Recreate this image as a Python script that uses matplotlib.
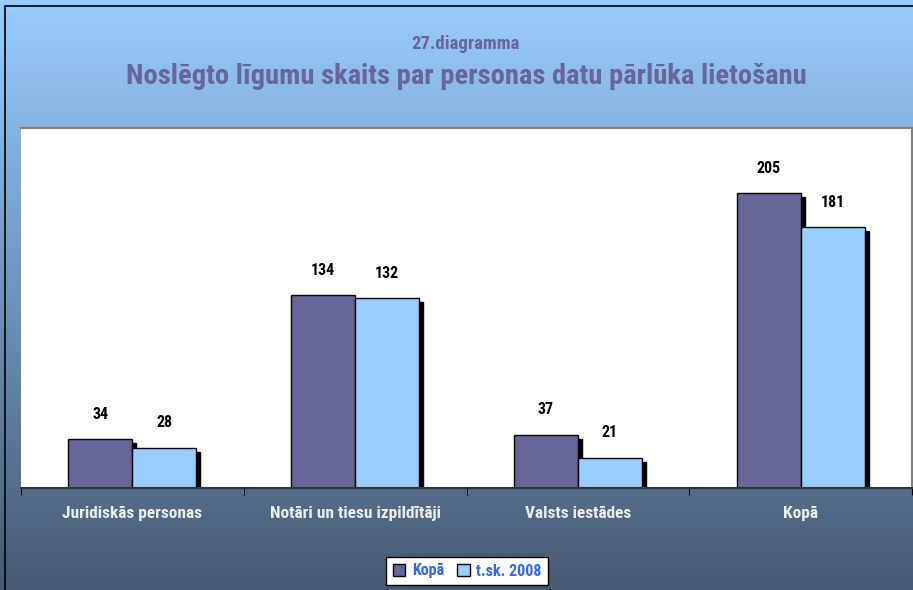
import numpy as np
import matplotlib
matplotlib.use('Agg')
import matplotlib.pyplot as plt
from matplotlib.patches import Rectangle

categories = ['Juridiskās personas', 'Notāri un tiesu izpildītāji', 'Valsts iestādes', 'Kopā']
kopa = [34, 134, 37, 205]
tsk2008 = [28, 132, 21, 181]
series_names = ['Kopā', 't.sk. 2008']

plt.rcParams['font.family'] = ['Roboto Condensed', 'DejaVu Sans']

fig = plt.figure(figsize=(9.13, 5.90), dpi=100)

# gradient background
bg = fig.add_axes([0, 0, 1, 1], zorder=-10)
top = np.array([0x99, 0xcc, 0xff]) / 255
bot = np.array([0x46, 0x5a, 0x72]) / 255
t = np.linspace(0, 1, 300)[:, None]
grad = top * (1 - t) + bot * t
bg.imshow(grad[:, None, :], aspect='auto', extent=[0, 1, 0, 1])
bg.set_axis_off()
bg.add_patch(Rectangle((0.006, -0.01), 1.1, 1.0, transform=bg.transAxes,
                       fill=False, edgecolor='black', lw=1.2))

W, H = 913, 590
ax = fig.add_axes([21 / W, 1 - 488 / H, (912 - 21) / W, (488 - 128) / H])
ax.set_facecolor('white')
ax.set_xlim(0, 4)
ax.set_ylim(0, 250)

x = np.arange(len(categories)) + 0.5
bw = 64 / 222.75
c1, c2 = '#666699', '#99ccff'
sx, sy = 4 / 222.75, 4 / 1.44

for xi, a, b in zip(x, kopa, tsk2008):
    # shadows
    ax.add_patch(Rectangle((xi - bw + sx, 0), bw, a - sy, color='black', zorder=1))
    ax.add_patch(Rectangle((xi + sx, 0), bw, b - sy, color='black', zorder=1))
ax.bar(x - bw / 2, kopa, bw, color=c1, edgecolor='black', lw=1, zorder=2, label=series_names[0])
ax.bar(x + bw / 2, tsk2008, bw, color=c2, edgecolor='black', lw=1, zorder=2, label=series_names[1])

for xi, a, b in zip(x, kopa, tsk2008):
    ax.text(xi - bw / 2, a + 12, str(a), ha='center', va='bottom', fontsize=11.5, fontweight='bold')
    ax.text(xi + bw / 2, b + 12, str(b), ha='center', va='bottom', fontsize=11.5, fontweight='bold')

ax.set_xticks([0, 1, 2, 3, 4])
ax.set_xticklabels([])
ax.set_xticks(x, minor=True)
ax.set_xticklabels(categories, minor=True, color='#eeeeee', fontsize=12.4, fontweight='bold')
ax.tick_params(axis='x', which='minor', length=0, pad=13)
ax.tick_params(axis='x', which='major', length=5, direction='out', color='black')
ax.set_yticks([])
for s in ['top', 'right']:
    ax.spines[s].set_color('#808080')
    ax.spines[s].set_linewidth(1.5)
ax.spines['left'].set_visible(False)
ax.spines['bottom'].set_color('#333333')
ax.spines['bottom'].set_linewidth(1.5)

fig.text(466 / W, 1 - 44 / H, '27.diagramma', ha='center', va='center', color='#666699',
         fontsize=13.5, fontweight='bold')
fig.text(466 / W, 1 - 77 / H, 'Noslēgto līgumu skaits par personas datu pārlūka lietošanu',
         ha='center', va='center', color='#666699', fontsize=20.5, fontweight='bold')

leg = fig.legend(loc='center', bbox_to_anchor=(467 / W, 1 - 571 / H), ncol=2,
                 frameon=True, fancybox=False, fontsize=11.5, handlelength=0.8,
                 handleheight=0.8, handletextpad=0.4, columnspacing=0.8,
                 borderpad=0.4, edgecolor='black', framealpha=1, facecolor='white')
leg.get_frame().set_linewidth(1)
for txt in leg.get_texts():
    txt.set_color('#3366ff')
    txt.set_fontweight('bold')

fig.savefig('out.png', dpi=100)
